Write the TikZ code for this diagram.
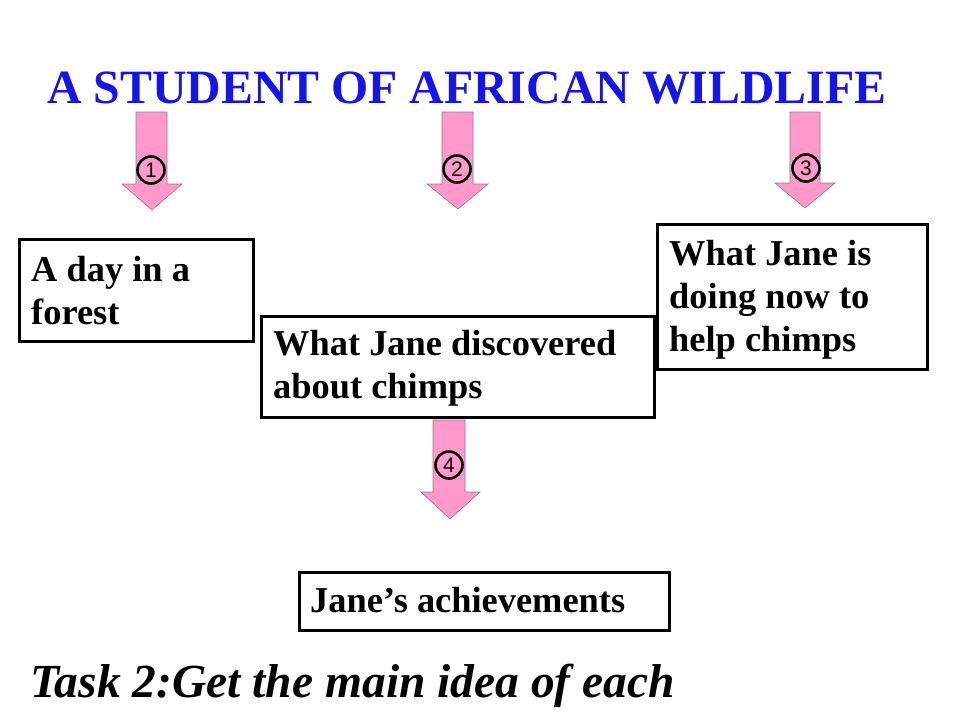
\documentclass[tikz,border=0pt]{standalone}
\usepackage{fontspec}
\setmainfont{Liberation Serif}
\newfontfamily\numfont{Liberation Sans}
\definecolor{pinkfill}{RGB}{255,153,204}
\definecolor{pinkline}{RGB}{150,120,135}
\definecolor{titleblue}{RGB}{20,20,235}
\begin{document}
\begin{tikzpicture}[x=1pt,y=-1pt,
  txtbox/.style={draw=black,line width=3pt,fill=white,inner sep=0pt},
  boxtext/.style={font=\fontsize{36.4}{43}\selectfont\bfseries,align=left,anchor=base west,inner sep=0pt},
  pinkarrow/.style={fill=pinkfill,draw=pinkline,line width=0.6pt},
  numcirc/.style={circle,draw=black,line width=2.6pt,minimum size=27pt,inner sep=0pt,font=\numfont\fontsize{21}{21}\selectfont}]
\useasboundingbox[fill=white] (0,0) rectangle (960,720);
% title
\node[font=\fontsize{47.8}{47.8}\selectfont\bfseries,text=titleblue,anchor=base west,inner sep=0pt] (title) at (47,103) {A STUDENT OF AFRICAN WILDLIFE};
% arrows
\draw[pinkarrow] (136,112) -- (167,112) -- (167,184) -- (182,184) -- (152,210) -- (122,184) -- (136,184) -- cycle;
\draw[pinkarrow] (442,112) -- (473,112) -- (473,184) -- (488,184) -- (458,209) -- (427,184) -- (442,184) -- cycle;
\draw[pinkarrow] (790,112) -- (820,112) -- (820,183) -- (835,183) -- (805,208) -- (775,183) -- (790,183) -- cycle;
\draw[pinkarrow] (433,420) -- (465,420) -- (465,492) -- (480,492) -- (450,519) -- (421,492) -- (433,492) -- cycle;
\node[numcirc] (n1) at (151,170) {1};
\node[numcirc] (n2) at (457,169) {2};
\node[numcirc] (n3) at (806,168) {3};
\node[numcirc] (n4) at (449,465) {4};
% boxes
\draw[txtbox] (19,239) rectangle (253,341);
\node[boxtext] (b1) at (31,324) {A day in a\\forest};
\draw[txtbox] (261,316) rectangle (654,417);
\node[boxtext] (b2) at (273,398) {What Jane discovered\\about chimps};
\draw[txtbox] (657,224) rectangle (927,369);
\node[boxtext] (b3) at (669,351) {What Jane is\\doing now to\\help chimps};
\draw[txtbox] (299,572) rectangle (669,630);
\node[boxtext] (b4) at (310,612) {Jane’s achievements};
% task
\node[font=\fontsize{47.5}{47.5}\selectfont\bfseries\itshape,anchor=base west,inner sep=0pt] (task) at (30,697) {Task 2:Get the main idea of each};
\end{tikzpicture}
\end{document}
